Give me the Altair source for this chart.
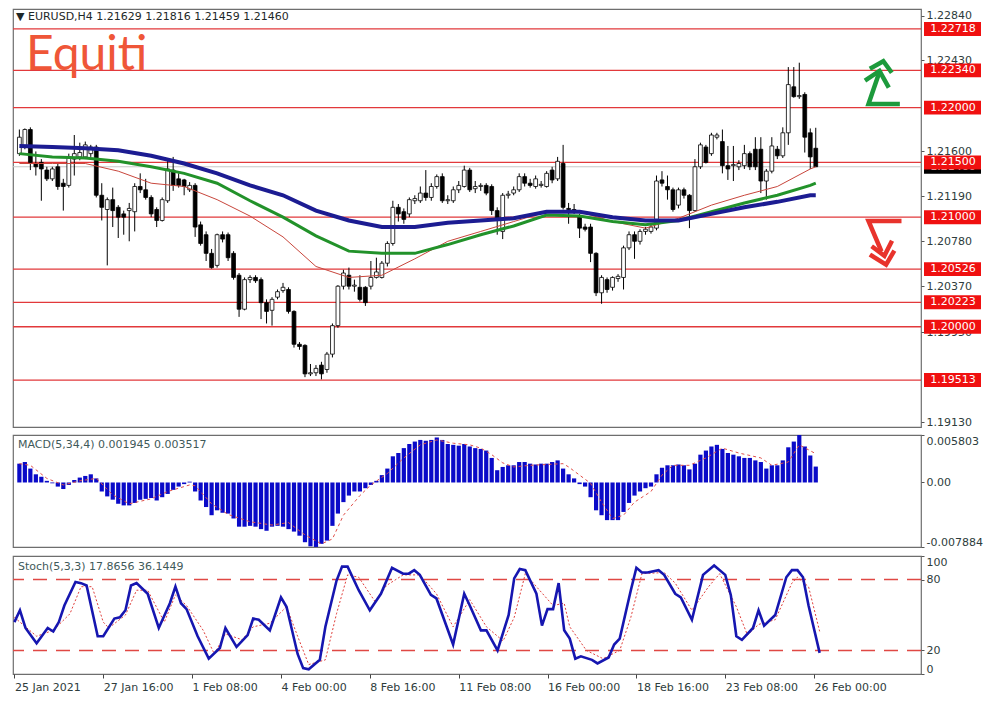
import altair as alt
import pandas as pd

# ---------------- data ----------------
OPEN = [
1.2158, 1.2164, 1.2180, 1.2149, 1.2150, 1.2143, 1.2135, 1.2146, 1.2131, 1.2129,
1.2153, 1.2155, 1.2155, 1.2158, 1.2164, 1.2120, 1.2107, 1.2116, 1.2109, 1.2103,
1.2106, 1.2105, 1.2128, 1.2125, 1.2118, 1.2107, 1.2097, 1.2115, 1.2143, 1.2135,
1.2134, 1.2125, 1.2129, 1.2093, 1.2084, 1.2067, 1.2056, 1.2084, 1.2084, 1.2067,
1.2047, 1.2016, 1.2043, 1.2045, 1.2043, 1.2022, 1.2015, 1.2027, 1.2033, 1.2034,
1.2014, 1.1984, 1.1983, 1.1957, 1.1958, 1.1965, 1.1961, 1.1975, 1.2001, 1.2037,
1.2047, 1.2037, 1.2036, 1.2036, 1.2037, 1.2045, 1.2045, 1.2058, 1.2076, 1.2109,
1.2105, 1.2103, 1.2115, 1.2115, 1.2122, 1.2118, 1.2128, 1.2137, 1.2115, 1.2115,
1.2125, 1.2128, 1.2143, 1.2126, 1.2128, 1.2129, 1.2128, 1.2106, 1.2087, 1.2120,
1.2122, 1.2125, 1.2137, 1.2131, 1.2128, 1.2129, 1.2128, 1.2143, 1.2135, 1.2149,
1.2108, 1.2107, 1.2100, 1.2091, 1.2091, 1.2067, 1.2031, 1.2043, 1.2036, 1.2044,
1.2045, 1.2072, 1.2084, 1.2078, 1.2087, 1.2087, 1.2090, 1.2134, 1.2128, 1.2125,
1.2111, 1.2125, 1.2120, 1.2106, 1.2146, 1.2164, 1.2158, 1.2173, 1.2169, 1.2147,
1.2147, 1.2146, 1.2147, 1.2158, 1.2162, 1.2162, 1.2133, 1.2142, 1.2162, 1.2156,
1.2177, 1.2219, 1.2210, 1.2212, 1.2177, 1.21629]
HIGH = [
1.2180, 1.2181, 1.2182, 1.2160, 1.2153, 1.2146, 1.2146, 1.2149, 1.2135, 1.2158,
1.2175, 1.2168, 1.2169, 1.2166, 1.2166, 1.2131, 1.2118, 1.2127, 1.2111, 1.2106,
1.2113, 1.2131, 1.2140, 1.2135, 1.2120, 1.2109, 1.2118, 1.2153, 1.2155, 1.2140,
1.2135, 1.2132, 1.2131, 1.2096, 1.2087, 1.2071, 1.2085, 1.2087, 1.2086, 1.2069,
1.2049, 1.2045, 1.2047, 1.2047, 1.2045, 1.2025, 1.2027, 1.2034, 1.2040, 1.2036,
1.2015, 1.1986, 1.1984, 1.1966, 1.1965, 1.1968, 1.1977, 1.2003, 1.2038, 1.2052,
1.2054, 1.2043, 1.2047, 1.2037, 1.2060, 1.2063, 1.2060, 1.2078, 1.2115, 1.2112,
1.2108, 1.2118, 1.2120, 1.2128, 1.2143, 1.2131, 1.2139, 1.2140, 1.2120, 1.2128,
1.2133, 1.2147, 1.2145, 1.2133, 1.2131, 1.2131, 1.2130, 1.2109, 1.2122, 1.2124,
1.2128, 1.2140, 1.2140, 1.2135, 1.2138, 1.2133, 1.2142, 1.2146, 1.2155, 1.2166,
1.2113, 1.2112, 1.2103, 1.2094, 1.2094, 1.2068, 1.2047, 1.2045, 1.2046, 1.2048,
1.2074, 1.2087, 1.2087, 1.2089, 1.2091, 1.2094, 1.2138, 1.2142, 1.2138, 1.2127,
1.2127, 1.2127, 1.2121, 1.2153, 1.2168, 1.2166, 1.2177, 1.2177, 1.2180, 1.2165,
1.2165, 1.2152, 1.2166, 1.2160, 1.2173, 1.2173, 1.2144, 1.2173, 1.2165, 1.2182,
1.2237, 1.2237, 1.2241, 1.2214, 1.2181, 1.21816]
LOW = [
1.2156, 1.2162, 1.2143, 1.2138, 1.2115, 1.2133, 1.2133, 1.2125, 1.2106, 1.2127,
1.2138, 1.2152, 1.2153, 1.2155, 1.2118, 1.2097, 1.2056, 1.2091, 1.2081, 1.2084,
1.2078, 1.2087, 1.2122, 1.2116, 1.2100, 1.2091, 1.2096, 1.2113, 1.2124, 1.2127,
1.2120, 1.2123, 1.2082, 1.2074, 1.2060, 1.2053, 1.2054, 1.2077, 1.2060, 1.2043,
1.2009, 1.2015, 1.2040, 1.2040, 1.2007, 1.2003, 1.2001, 1.2025, 1.2031, 1.2012,
1.1981, 1.1979, 1.1954, 1.1955, 1.1955, 1.1952, 1.1958, 1.1972, 1.1999, 1.2034,
1.2034, 1.2032, 1.2023, 1.2019, 1.2034, 1.2044, 1.2044, 1.2055, 1.2074, 1.2096,
1.2094, 1.2100, 1.2112, 1.2113, 1.2115, 1.2115, 1.2126, 1.2113, 1.2112, 1.2113,
1.2122, 1.2127, 1.2123, 1.2122, 1.2124, 1.2120, 1.2102, 1.2084, 1.2080, 1.2117,
1.2120, 1.2123, 1.2128, 1.2127, 1.2126, 1.2127, 1.2127, 1.2131, 1.2133, 1.2107,
1.2094, 1.2103, 1.2081, 1.2087, 1.2059, 1.2028, 1.2021, 1.2031, 1.2033, 1.2041,
1.2034, 1.2070, 1.2062, 1.2075, 1.2084, 1.2085, 1.2088, 1.2128, 1.2116, 1.2105,
1.2108, 1.2117, 1.2090, 1.2105, 1.2144, 1.2149, 1.2156, 1.2171, 1.2140, 1.2134,
1.2133, 1.2143, 1.2144, 1.2143, 1.2143, 1.2122, 1.2116, 1.2140, 1.2153, 1.2154,
1.2166, 1.2209, 1.2208, 1.2159, 1.2144, 1.21459]
CLOSE = [
1.2173, 1.2180, 1.2150, 1.2146, 1.2144, 1.2135, 1.2144, 1.2128, 1.2128, 1.2155,
1.2158, 1.2159, 1.2166, 1.2164, 1.2120, 1.2109, 1.2116, 1.2106, 1.2100, 1.2100,
1.2108, 1.2128, 1.2125, 1.2118, 1.2103, 1.2097, 1.2116, 1.2144, 1.2129, 1.2129,
1.2128, 1.2129, 1.2091, 1.2076, 1.2067, 1.2054, 1.2084, 1.2080, 1.2063, 1.2045,
1.2016, 1.2043, 1.2045, 1.2042, 1.2022, 1.2014, 1.2025, 1.2032, 1.2036, 1.2014,
1.1984, 1.1982, 1.1957, 1.1958, 1.1962, 1.1957, 1.1975, 1.2001, 1.2037, 1.2049,
1.2037, 1.2038, 1.2025, 1.2022, 1.2045, 1.2050, 1.2058, 1.2076, 1.2109, 1.2103,
1.2098, 1.2116, 1.2117, 1.2122, 1.2118, 1.2128, 1.2137, 1.2115, 1.2116, 1.2125,
1.2129, 1.2143, 1.2125, 1.2128, 1.2129, 1.2122, 1.2106, 1.2098, 1.2120, 1.2121,
1.2125, 1.2137, 1.2131, 1.2129, 1.2135, 1.2130, 1.2140, 1.2134, 1.2151, 1.2109,
1.2107, 1.2106, 1.2090, 1.2089, 1.2067, 1.2031, 1.2045, 1.2034, 1.2045, 1.2046,
1.2072, 1.2084, 1.2078, 1.2087, 1.2089, 1.2091, 1.2133, 1.2131, 1.2125, 1.2107,
1.2125, 1.2120, 1.2106, 1.2146, 1.2166, 1.2150, 1.2175, 1.2175, 1.2147, 1.2144,
1.2148, 1.2149, 1.2158, 1.2146, 1.2146, 1.2133, 1.2142, 1.2165, 1.2156, 1.2177,
1.2221, 1.2210, 1.2211, 1.2173, 1.2155, 1.21460]

MA_I = [0, 6, 12, 18, 24, 30, 36, 42, 48, 54, 60, 66, 72, 78, 84, 90, 96, 102,
        108, 114, 120, 126, 132, 138, 144, 145]
MA_BLUE = [1.2165, 1.2164, 1.2163, 1.2161, 1.2156, 1.2149, 1.2140, 1.2129, 1.2120,
           1.2106, 1.2097, 1.2091, 1.2091, 1.2095, 1.2097, 1.2099, 1.2105, 1.2105,
           1.2100, 1.2097, 1.2097, 1.2103, 1.2109, 1.2114, 1.2120, 1.2120]
MA_GREEN = [1.2158, 1.2155, 1.2154, 1.2151, 1.2146, 1.2140, 1.2131, 1.2115, 1.2100,
            1.2083, 1.2069, 1.2067, 1.2067, 1.2075, 1.2084, 1.2092, 1.2102, 1.2101,
            1.2096, 1.2093, 1.2097, 1.2105, 1.2113, 1.2120, 1.2129, 1.2131]
MA_RED = [1.2149, 1.2149, 1.2149, 1.2142, 1.2131, 1.2128, 1.2116, 1.2101, 1.2082,
          1.2055, 1.2045, 1.2047, 1.2062, 1.2078, 1.2087, 1.2096, 1.2105, 1.2105,
          1.2096, 1.2090, 1.2099, 1.2111, 1.2120, 1.2128, 1.2144, 1.2146]

LEVELS = [1.22718, 1.22340, 1.22000, 1.21500, 1.21000, 1.20526, 1.20223, 1.20000, 1.19513]
BID = 1.21460
PRICE_TICKS = [1.2284, 1.2243, 1.2160, 1.2119, 1.2078, 1.2037, 1.1995, 1.1913]

MACD = [
0.0023, 0.0025, 0.0017, 0.0010, 0.0007, 0.0002, -0.0001, -0.0005, -0.0008, -0.0003,
0.0003, 0.0006, 0.0008, 0.0010, 0.0005, -0.0011, -0.0017, -0.0021, -0.0026, -0.0028,
-0.0028, -0.0025, -0.0021, -0.0020, -0.0019, -0.0022, -0.0018, -0.0014, -0.0009, -0.0005,
-0.0002, 0.0001, -0.0011, -0.0022, -0.0030, -0.0040, -0.0034, -0.0037, -0.0038, -0.0044,
-0.0054, -0.0054, -0.0053, -0.0054, -0.0057, -0.0059, -0.0054, -0.0053, -0.0054, -0.0057,
-0.0060, -0.0065, -0.0073, -0.0078, -0.00788, -0.0075, -0.0071, -0.0053, -0.0038, -0.0024,
-0.0016, -0.0011, -0.0011, -0.0007, -0.0003, 0.0002, 0.0009, 0.0017, 0.0032, 0.0036,
0.0042, 0.0047, 0.0050, 0.0052, 0.0051, 0.0052, 0.0055, 0.0052, 0.0047, 0.0046,
0.0045, 0.0047, 0.0044, 0.0042, 0.0041, 0.0039, 0.0030, 0.0015,
0.0019, 0.0021, 0.0021, 0.0025, 0.0025, 0.0023, 0.0022, 0.0023, 0.0023, 0.0025,
0.0027, 0.0017, 0.0010, 0.0005, -0.0002, -0.0005, -0.0018, -0.0034, -0.0040, -0.0046,
-0.0046, -0.0046, -0.0036, -0.0025, -0.0016, -0.0011, -0.0007, -0.0005, 0.0010, 0.0018,
0.0021, 0.0021, 0.0022, 0.0021, 0.0016, 0.0023, 0.0034, 0.0039, 0.0044, 0.0046,
0.0041, 0.0036, 0.0034, 0.0032, 0.0030, 0.0030, 0.0027, 0.0025, 0.0017, 0.0021,
0.0021, 0.0027, 0.0043, 0.0050, 0.0058, 0.0044, 0.0033, 0.001945]
SIG_I = [0, 2, 5, 8, 11, 14, 17, 20, 24, 27, 31, 32, 35, 38, 42, 46, 49, 52, 55, 57,
         59, 62, 64, 67, 70, 73, 76, 79, 82, 84, 86, 88, 90, 93, 99, 100, 102, 104, 106, 108,
         110, 112, 115, 117, 119, 122, 125, 128, 131, 135, 137, 140, 142, 145]
SIG_V = [0.0023, 0.0021, 0.0005, -0.0003, 0.0002, 0.0005, -0.0015, -0.0026, -0.0020, -0.0011,
         -0.0003, -0.0004, -0.0026, -0.0039, -0.0048, -0.0052, -0.0049, -0.0064, -0.0075, -0.0069,
         -0.0040, -0.0016, -0.0003, 0.0011, 0.0030, 0.0046, 0.0052, 0.0048, 0.0046, 0.0042,
         0.0034, 0.0024, 0.0019, 0.0021, 0.0023, 0.0019, 0.0009, -0.0001, -0.0024, -0.0044,
         -0.0040, -0.0024, -0.0011, 0.0009, 0.0021, 0.0021, 0.0030, 0.0042, 0.0036, 0.0030,
         0.0021, 0.0025, 0.0046, 0.003517]

K_I = [0, 1, 2, 4, 6, 7, 8, 9, 11, 12, 13, 15, 16, 18, 19, 20, 21, 22, 24, 26,
       28, 29, 30, 31, 33, 35, 37, 38, 40, 42, 43, 44, 46, 48, 49, 51, 52, 53, 55, 56,
       58, 59, 60, 62, 64, 66, 68, 70, 71, 72, 73, 75, 76, 79, 81, 82, 84, 85, 87, 89,
       90, 91, 92, 94, 95, 96, 97, 98, 99, 100, 101, 102, 104, 105, 107, 108, 109, 111, 112, 113,
       114, 116, 117, 119, 120, 122, 124, 126, 128, 129, 130, 131, 133, 134, 135, 137, 139, 140, 141, 142,
       143, 145]
K_V = [44, 54, 39, 26, 39, 36, 44, 58, 78, 77, 75, 32, 32, 47, 48, 54, 75, 77, 68, 39,
       60, 74, 60, 55, 32, 13, 22, 39, 23, 33, 47, 46, 37, 65, 57, 17, 5, 4, 12, 40,
       79, 91, 91, 71, 54, 68, 90, 85, 85, 88, 84, 67, 64, 25, 68, 58, 37, 37, 20, 50,
       81, 89, 88, 68, 41, 55, 55, 77, 37, 30, 13, 15, 12, 9, 14, 25, 30, 71, 90, 86,
       86, 88, 84, 68, 65, 46, 84, 92, 84, 67, 32, 29, 39, 54, 41, 50, 82, 88, 88, 82,
       58, 17.8656]
D_I = [0, 3, 4, 7, 10, 12, 14, 16, 17, 20, 22, 24, 27, 29, 31, 34, 36, 38, 41, 43,
       46, 49, 51, 53, 56, 58, 60, 62, 65, 67, 70, 73, 76, 79, 82, 85, 88, 90, 92, 94,
       97, 99, 100, 103, 106, 109, 111, 113, 117, 119, 122, 125, 127, 130, 132, 134, 137, 140, 141, 143,
       145]
D_V = [48, 36, 32, 37, 51, 74, 74, 44, 39, 50, 71, 71, 44, 67, 58, 37, 17, 34, 29, 40,
       43, 57, 32, 8, 12, 51, 84, 82, 61, 75, 84, 84, 68, 40, 63, 40, 28, 48, 85, 74,
       58, 60, 40, 20, 13, 20, 48, 85, 86, 77, 54, 74, 85, 57, 33, 42, 46, 77, 82, 74,
       36.1449]

X_TICKS = [0, 16, 32, 48, 64, 80, 96, 112, 128, 144]
X_LABELS = ["25 Jan 2021", "27 Jan 16:00", "1 Feb 08:00", "4 Feb 00:00", "8 Feb 16:00",
            "11 Feb 08:00", "16 Feb 00:00", "18 Feb 16:00", "23 Feb 08:00", "26 Feb 00:00"]

# arrow annotations (bar index, price)
ARROW_GRP = ["g1", "g1", "g1", "g2", "g2", "g2", "g3", "g3", "g3",
             "r1", "r1", "r1", "r2", "r2", "r2", "r3", "r3", "r3"]
ARROW_COL = ["up"] * 9 + ["down"] * 9
ARROW_I = [159.9, 154.6, 156.6, 155.2, 157.3, 158.6, 154.3, 156.6, 158.1,
           160.2, 154.6, 156.8, 155.2, 157.8, 159.1, 155.5, 157.5, 158.7]
ARROW_P = [1.22032, 1.22032, 1.22326, 1.22364, 1.22423, 1.22335, 1.22258, 1.22335, 1.22200,
           1.20966, 1.20966, 1.20707, 1.20648, 1.20566, 1.20677, 1.20722, 1.20648, 1.20766]

HEADER = "\u25BC EURUSD,H4  1.21629 1.21816 1.21459 1.21460"
MACD_TITLE = "MACD(5,34,4) 0.001945 0.003517"
STOCH_TITLE = "Stoch(5,3,3) 17.8656 36.1449"

# ---------------- chart ----------------
FONT = "DejaVu Sans"
TXT = "#2e3c3c"
W = 908
H1, H2, H3 = 418, 112, 118
x_scale = alt.Scale(domain=[-0.25, 163.25], nice=False, zero=False)
X0 = alt.X("i:Q", scale=x_scale, axis=None)

candles = pd.DataFrame({"i": list(range(len(OPEN))), "open": OPEN, "high": HIGH,
                        "low": LOW, "close": CLOSE})
ma = pd.DataFrame({"i": MA_I, "blue": MA_BLUE, "green": MA_GREEN, "red": MA_RED})
lev = pd.DataFrame({"price": LEVELS, "lab": [f"{v:.5f}" for v in LEVELS]})
bid = pd.DataFrame({"price": [BID], "lab": [f"{BID:.5f}"]})
arrows = pd.DataFrame({"g": ARROW_GRP, "c": ARROW_COL, "i": ARROW_I, "p": ARROW_P,
                       "k": list(range(len(ARROW_I)))})

yscale = alt.Scale(domain=[1.19085, 1.2290], nice=False, zero=False)
price_axis = alt.Axis(orient="right", values=PRICE_TICKS, format=".5f", tickSize=3,
                      tickColor="#555", labelFont=FONT, labelFontSize=11, labelColor=TXT,
                      domain=False, grid=False, title=None, labelPadding=2)


def Yp(f):
    return alt.Y(f, type="quantitative", scale=yscale, axis=price_axis)


hl = alt.Chart(lev).mark_rule(color="#e2393b", strokeWidth=1.3).encode(y=Yp("price"))
bidline = alt.Chart(bid).mark_rule(color="#c8c8c8", strokeWidth=1).encode(y=Yp("price"))
wick = alt.Chart(candles).mark_rule(color="black", strokeWidth=1).encode(
    x=X0, y=Yp("low"), y2="high")
body = alt.Chart(candles).mark_bar(size=3.8, stroke="black", strokeWidth=0.8).encode(
    x=X0, y=Yp("open"), y2="close",
    fill=alt.condition("datum.close >= datum.open", alt.value("white"), alt.value("black")))
ma_red = alt.Chart(ma).mark_line(color="#c8463c", strokeWidth=1).encode(x=X0, y=Yp("red"))
ma_green = alt.Chart(ma).mark_line(color="#22922a", strokeWidth=3).encode(x=X0, y=Yp("green"))
ma_blue = alt.Chart(ma).mark_line(color="#1c1c92", strokeWidth=4).encode(x=X0, y=Yp("blue"))
arr = alt.Chart(arrows).mark_line(strokeWidth=4.5, strokeJoin="miter", strokeCap="square").encode(
    x=X0, y=Yp("p"), detail="g:N", order="k:Q",
    color=alt.Color("c:N", scale=alt.Scale(domain=["up", "down"], range=["#1d9a3c", "#e8332c"]),
                    legend=None))

BOX = "M-1,-0.245L1,-0.245L1,0.245L-1,0.245Z"
bid_box = alt.Chart(bid).mark_point(shape=BOX, size=3249, filled=True, opacity=1,
                                    color="#000000").encode(x=alt.value(W + 31.5), y=Yp("price"))
bid_txt = alt.Chart(bid).mark_text(color="white", font=FONT, fontSize=11, align="center",
                                   baseline="middle").encode(x=alt.value(W + 32), y=Yp("price"),
                                                             text="lab:N")
boxes = alt.Chart(lev).mark_point(shape=BOX, size=3249, filled=True, opacity=1,
                                  color="#f01010").encode(x=alt.value(W + 31.5), y=Yp("price"))
box_txt = alt.Chart(lev).mark_text(color="white", font=FONT, fontSize=11, align="center",
                                   baseline="middle").encode(x=alt.value(W + 32), y=Yp("price"),
                                                             text="lab:N")
header = alt.Chart(pd.DataFrame({"t": [HEADER]})).mark_text(
    font=FONT, fontSize=11, color="#1e2828", align="left", baseline="middle").encode(
    x=alt.value(3), y=alt.value(8), text="t:N")
brand = alt.Chart(pd.DataFrame({"t": ["Equiti"]})).mark_text(
    font="Lato", fontSize=48, color="#ef5638", align="left",
    baseline="alphabetic").encode(x=alt.value(13), y=alt.value(61), text="t:N")

main = alt.layer(hl, bidline, wick, body, ma_red, ma_green, ma_blue, arr,
                 bid_box, bid_txt, boxes, box_txt, header, brand).properties(width=W, height=H1)

# MACD panel
macd_df = pd.DataFrame({"i": list(range(len(MACD))), "v": MACD})
sig_df = pd.DataFrame({"i": SIG_I, "v": SIG_V})
macd_axis = alt.Axis(orient="right", values=[-0.007884, 0, 0.005803],
                     labelExpr="datum.value > 0.001 ? '0.005803' : (datum.value < -0.001 ? '-0.007884' : '0.00')",
                     labelFlush=True, tickSize=3, tickColor="#555", labelFont=FONT,
                     labelFontSize=11, labelColor=TXT, domain=False, grid=False, title=None,
                     labelPadding=2)
macd_scale = alt.Scale(domain=[-0.007884, 0.005803], nice=False, zero=False)
hist = alt.Chart(macd_df).mark_bar(size=4.2, color="#0a0ac8").encode(
    x=X0, y=alt.Y("v:Q", scale=macd_scale, axis=macd_axis), y2=alt.datum(0))
sig = alt.Chart(sig_df).mark_line(color="#e0504a", strokeWidth=1, strokeDash=[3, 3]).encode(
    x=X0, y=alt.Y("v:Q", scale=macd_scale, axis=macd_axis))
macd_lab = alt.Chart(pd.DataFrame({"t": [MACD_TITLE]})).mark_text(
    font=FONT, fontSize=11, color="#3f5a5a", align="left", baseline="middle").encode(
    x=alt.value(5), y=alt.value(10), text="t:N")
macd = alt.layer(hist, sig, macd_lab).properties(width=W, height=H2)

# Stochastic panel
k_df = pd.DataFrame({"i": K_I, "v": K_V})
d_df = pd.DataFrame({"i": D_I, "v": D_V})
lvl_df = pd.DataFrame({"v": [20, 80]})
st_scale = alt.Scale(domain=[0, 100], nice=False, zero=False)
st_axis = alt.Axis(orient="right", values=[0, 20, 80, 100], labelFlush=True, tickSize=3,
                   tickColor="#555", labelFont=FONT, labelFontSize=11, labelColor=TXT,
                   domain=False, grid=False, title=None, labelPadding=2)
label_expr = "[" + ",".join(f"'{s}'" for s in X_LABELS) + "][round(datum.value / 16)]"
x_axis = alt.Axis(values=X_TICKS, labelExpr=label_expr, labelAlign="left", labelPadding=3,
                  tickSize=4, tickColor="#444", labelFont=FONT, labelFontSize=11,
                  labelColor=TXT, domain=False, grid=False, title=None, labelFlush=False,
                  labelOverlap=False)
XS = alt.X("i:Q", scale=x_scale, axis=x_axis)
lv = alt.Chart(lvl_df).mark_rule(color="#e04844", strokeWidth=1.5, strokeDash=[14, 9]).encode(
    y=alt.Y("v:Q", scale=st_scale, axis=st_axis))
dline = alt.Chart(d_df).mark_line(color="#e0403c", strokeWidth=1, strokeDash=[2, 2]).encode(
    x=XS, y=alt.Y("v:Q", scale=st_scale, axis=st_axis))
kline = alt.Chart(k_df).mark_line(color="#1616b0", strokeWidth=2.6).encode(
    x=XS, y=alt.Y("v:Q", scale=st_scale, axis=st_axis))
st_lab = alt.Chart(pd.DataFrame({"t": [STOCH_TITLE]})).mark_text(
    font=FONT, fontSize=11, color="#3f5a5a", align="left", baseline="middle").encode(
    x=alt.value(5), y=alt.value(11), text="t:N")
stoch = alt.layer(lv, dline, kline, st_lab).properties(width=W, height=H3)

chart = alt.vconcat(main, macd, stoch, spacing=5).properties(
    padding=0, background="white"
).configure_view(stroke="#6e6e6e", strokeWidth=1.2)

chart.save("out.html", embed_options={"renderer": "svg", "actions": False})
